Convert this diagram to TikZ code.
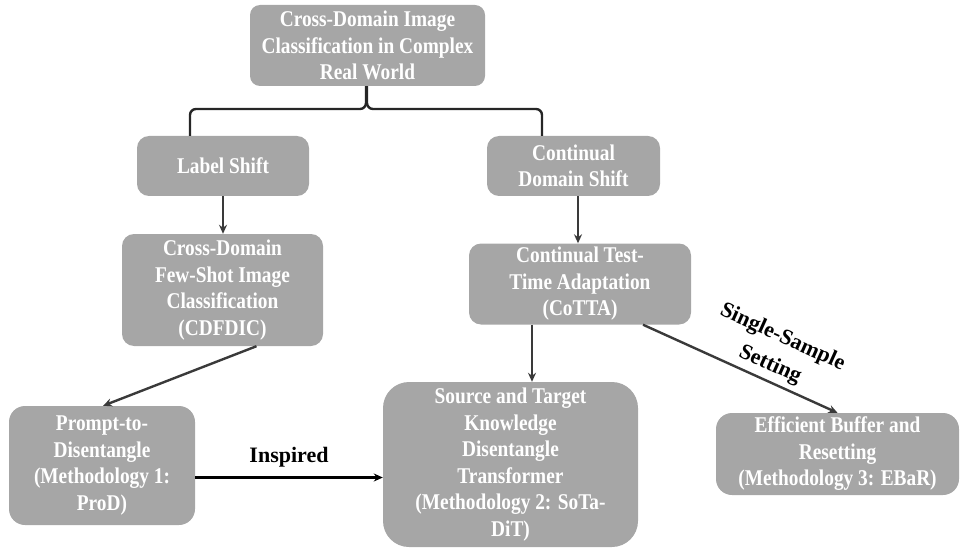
\documentclass[tikz,border=0pt]{standalone}
\usepackage{fontspec}
\setmainfont{Liberation Serif}
\newfontfamily\boxfont{Liberation Serif}[FakeStretch=0.86]
\usetikzlibrary{arrows.meta}
\definecolor{boxgray}{HTML}{A6A6A6}
\definecolor{linkgray}{HTML}{3A3A3A}
\begin{document}
\begin{tikzpicture}[x=1pt,y=-1pt,
  topic/.style={rectangle, rounded corners=12pt, fill=boxgray, text=white,
    align=center, inner sep=0pt,
    font=\boxfont\bfseries\fontsize{22.5}{26.5}\selectfont},
  link/.style={draw=linkgray, line width=2.4pt,
    -{Stealth[length=9pt,width=8pt]}},
  tag/.style={text=black, font=\bfseries\fontsize{22}{30}\selectfont, align=center}]
\useasboundingbox (0,0) rectangle (963,548);

% boxes
\node[topic, minimum width=235pt, minimum height=81pt, rounded corners=10pt] (root) at (367.5,45.5)
  {Cross-Domain Image\\Classification in Complex\\Real World};
\node[topic, minimum width=172pt, minimum height=60pt] (ls) at (223,166) {Label Shift};
\node[topic, minimum width=173pt, minimum height=60pt] (cds) at (573.5,166) {Continual\\Domain Shift};
\node[topic, minimum width=201pt, minimum height=112pt] (cdf) at (222.5,290)
  {Cross-Domain\\Few-Shot Image\\Classification\\(CDFDIC)};
\node[topic, minimum width=222pt, minimum height=81pt] (cotta) at (580,284)
  {Continual Test-\\Time Adaptation\\(CoTTA)};
\node[topic, minimum width=186pt, minimum height=119pt, rounded corners=16pt] (prod) at (102,465.5)
  {Prompt-to-\\Disentangle\\(Methodology 1:\\ProD)};
\node[topic, minimum width=255pt, minimum height=165pt, rounded corners=26pt] (sota) at (510.5,464.5)
  {Source and Target\\Knowledge\\Disentangle\\Transformer\\(Methodology 2: SoTa-\\DiT)};
\node[topic, minimum width=243pt, minimum height=82pt, rounded corners=16pt] (ebar) at (837.5,454)
  {Efficient Buffer and\\Resetting\\(Methodology 3: EBaR)};

% brace from the root to the two shift types
\draw[draw=black!85, line width=2.4pt, rounded corners=6pt]
  (ls.north -| 190,0) |- (366,109) -- (root.south -| 366,0);
\draw[draw=black!85, line width=2.4pt, rounded corners=6pt]
  (cds.north -| 542,0) |- (367,109) -- (root.south -| 367,0);

% links
\draw[link] (ls.south) -- (ls.south |- cdf.north);
\draw[link] ([xshift=4.5pt]cds.south) -- ([xshift=4.5pt]cds.south |- cotta.north);
\draw[link] ([xshift=34pt]cdf.south) -- ([xshift=1pt]prod.north);
\draw[link] ([xshift=-48pt]cotta.south) -- ([xshift=-48pt]cotta.south |- sota.north);
\draw[link] ([xshift=63pt]cotta.south) -- node[tag, sloped, above=1pt, pos=0.62] {Single-Sample\\Setting} (ebar.north);
\draw[link, draw=black] ([yshift=-12pt]prod.east) -- node[tag, above=6pt] {Inspired} ([yshift=-12pt]prod.east -| sota.west);
\end{tikzpicture}
\end{document}
